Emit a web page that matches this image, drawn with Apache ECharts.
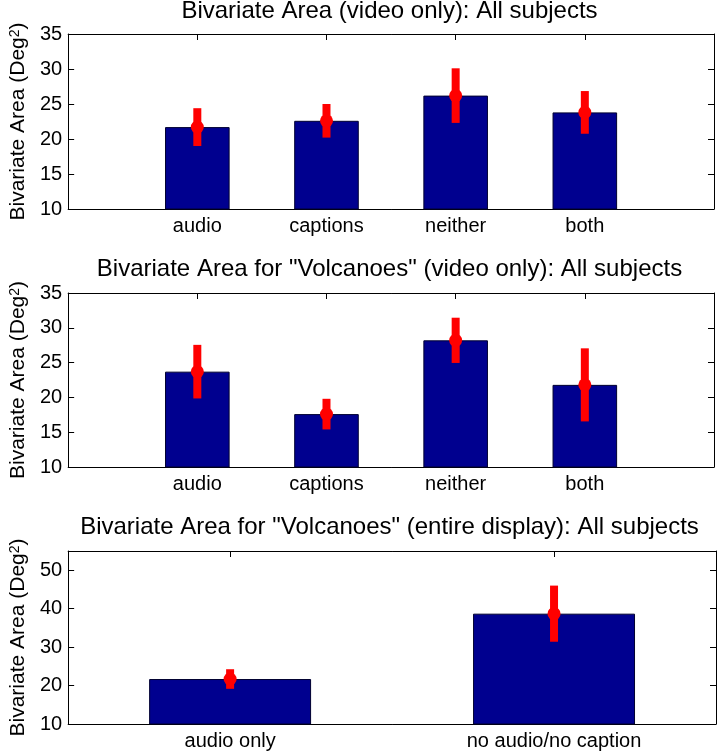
<!DOCTYPE html>
<html>
<head>
<meta charset="utf-8">
<script src="https://cdn.jsdelivr.net/npm/echarts@6/dist/echarts.min.js"></script>
<style>html,body{margin:0;padding:0;background:#fff;}#c{width:717px;height:752px;}</style>
</head>
<body>
<div id="c"></div>
<script>
// ---- data ----
const titles = [
  'Bivariate Area (video only): All subjects',
  'Bivariate Area for "Volcanoes" (video only): All subjects',
  'Bivariate Area for "Volcanoes" (entire display): All subjects'
];
const cats1 = ['audio', 'captions', 'neither', 'both'];
const means1 = [21.7, 22.6, 26.2, 23.8];
const errs1 = [2.7, 2.4, 3.9, 3.05];
const cats2 = ['audio', 'captions', 'neither', 'both'];
const means2 = [23.7, 17.6, 28.2, 21.8];
const errs2 = [3.85, 2.2, 3.25, 5.25];
const cats3 = ['audio only', 'no audio/no caption'];
const means3 = [21.7, 38.7];
const errs3 = [2.55, 7.3];
const yTicks12 = { min: 10, max: 35, interval: 5 };
const yTicks3 = { min: 10, max: 55, interval: 10 };

// ---- styling ----
const FONT = 'Liberation Sans';
const BAR = '#00008f';
const RED = '#ff0000';
const grids = [
  { left: 63, top: 34, width: 653, height: 175 },
  { left: 63, top: 293, width: 653, height: 174 },
  { left: 63, top: 551, width: 653, height: 173 }
];
const titleTops = [-1, 257, 515];

const yName = '{a|Bivariate Area (Deg}{s|2}{a|)}';

function padCats(c) { return [''].concat(c).concat(['']); }

const xAxes = [], yAxes = [], series = [];
const panels = [
  { cats: padCats(cats1), means: means1, errs: errs1, ticks: yTicks12, padded: true },
  { cats: padCats(cats2), means: means2, errs: errs2, ticks: yTicks12, padded: true },
  { cats: cats3, means: means3, errs: errs3, ticks: yTicks3, padded: false }
];

panels.forEach(function (p, g) {
  const off = p.padded ? 1 : 0;
  xAxes.push({
    type: 'category', gridIndex: g, data: p.cats, boundaryGap: !p.padded, position: 'bottom',
    axisLine: { lineStyle: { color: '#000', width: 1 } },
    axisTick: { show: false },
    axisLabel: { color: '#000', fontSize: 20, fontFamily: FONT, margin: 7, interval: 0 }
  });
  xAxes.push({
    type: 'category', gridIndex: g, data: p.cats, boundaryGap: !p.padded, position: 'top',
    axisLine: { lineStyle: { color: '#000', width: 1 } },
    axisTick: { show: true, inside: true, length: 6, alignWithLabel: true, lineStyle: { color: '#000' },
      interval: p.padded ? function (i) { return i >= 1 && i <= p.cats.length - 2; } : 0 },
    axisLabel: { show: false }
  });
  yAxes.push({
    type: 'value', gridIndex: g, position: 'left',
    min: p.ticks.min, max: p.ticks.max, interval: p.ticks.interval,
    splitLine: { show: false },
    axisLine: { show: true, lineStyle: { color: '#000', width: 1 } },
    axisTick: { show: true, inside: true, length: 6, lineStyle: { color: '#000' } },
    axisLabel: { color: '#000', fontSize: 20, fontFamily: FONT, margin: 6, showMaxLabel: p.padded },
    name: yName, nameLocation: 'middle', nameGap: 37, nameRotate: 90,
    nameTextStyle: {
      color: '#000', fontFamily: FONT, fontSize: 21,
      rich: {
        a: { fontSize: 21, fontFamily: FONT, color: '#000' },
        s: { fontSize: 14, fontFamily: FONT, color: '#000', verticalAlign: 'top' }
      }
    }
  });
  yAxes.push({
    type: 'value', gridIndex: g, position: 'right',
    min: p.ticks.min, max: p.ticks.max, interval: p.ticks.interval,
    splitLine: { show: false },
    axisLine: { show: true, lineStyle: { color: '#000', width: 1 } },
    axisTick: { show: true, inside: true, length: 6, lineStyle: { color: '#000' } },
    axisLabel: { show: false }
  });
  const barData = p.padded ? ['-'].concat(p.means).concat(['-']) : p.means.slice();
  series.push({
    type: 'bar', xAxisIndex: 2 * g, yAxisIndex: 2 * g, data: barData,
    barWidth: '50%', clip: true,
    itemStyle: { color: BAR, borderColor: '#000030', borderWidth: 1 },
    emphasis: { disabled: true }, silent: true
  });
  series.push({
    type: 'custom', xAxisIndex: 2 * g, yAxisIndex: 2 * g, silent: true, z: 5,
    data: p.means.map(function (m, i) { return [i + off, m, p.errs[i]]; }),
    renderItem: function (params, api) {
      const x = api.value(0), m = api.value(1), e = api.value(2);
      const t = api.coord([x, m + e]);
      const b = api.coord([x, m - e]);
      const c = api.coord([x, m]);
      return {
        type: 'group', children: [
          { type: 'line', shape: { x1: t[0], y1: t[1], x2: b[0], y2: b[1] }, style: { stroke: RED, lineWidth: 8, lineCap: 'butt' } },
          { type: 'circle', shape: { cx: c[0], cy: c[1], r: 6.5 }, style: { fill: RED } }
        ]
      };
    }
  });
});

const chart = echarts.init(document.getElementById('c'), null, { renderer: 'canvas' });
chart.setOption({
  animation: false,
  backgroundColor: '#fff',
  title: titles.map(function (t, i) {
    return {
      text: t, left: 389.5, textAlign: 'center', top: titleTops[i], padding: 0,
      textStyle: { color: '#000', fontWeight: 'normal', fontSize: 24, fontFamily: FONT }
    };
  }),
  grid: grids,
  xAxis: xAxes,
  yAxis: yAxes,
  series: series
});
</script>
</body>
</html>
